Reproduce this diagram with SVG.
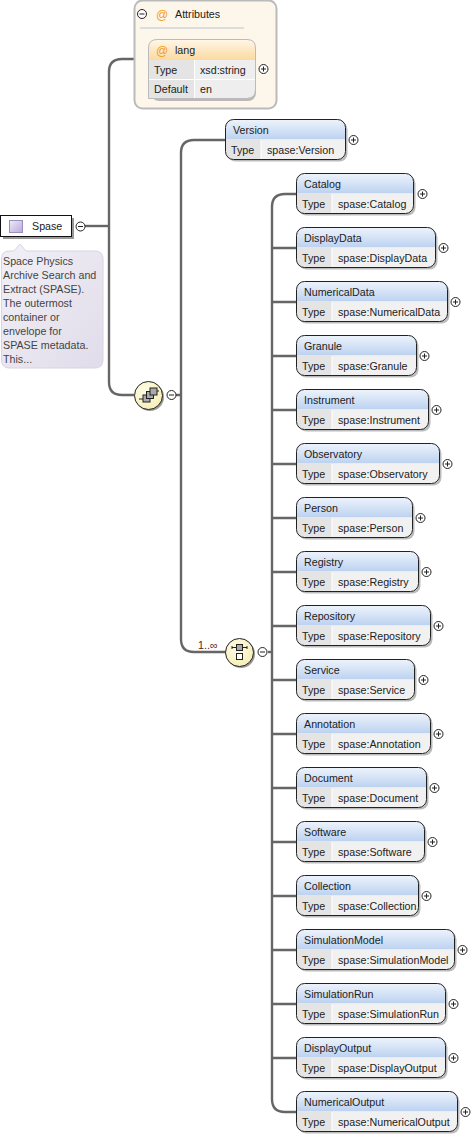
<svg xmlns="http://www.w3.org/2000/svg" width="473" height="1137" viewBox="0 0 473 1137">
<style>
text{font-family:"Liberation Sans",Arial,sans-serif;font-size:10.7px;fill:#222}
.conn{fill:none;stroke:#666;stroke-width:2.4}
.out{fill:#fff;stroke:none}
.ol{fill:none;stroke:#222;stroke-width:1}
.sh{fill:#aaa;opacity:.8}
.tc{fill:#e4e4e4}
.vc{fill:#f1f1f1}
.pm circle{fill:#fff;stroke:#222;stroke-width:1}
.pm path{stroke:#222;stroke-width:1;fill:none}
.at{fill:#f0a020;font-size:12px}
.doc{fill:#444;font-size:10.7px}
.sym{fill:#aaa;stroke:#222;stroke-width:1}
.lin{stroke:#222;stroke-width:1;fill:none}
</style>
<defs>
<linearGradient id="hdr" x1="0" y1="0" x2="0" y2="1"><stop offset="0" stop-color="#eef3fc"/><stop offset="1" stop-color="#bcd2f0"/></linearGradient>
<linearGradient id="ahdr" x1="0" y1="0" x2="0" y2="1"><stop offset="0" stop-color="#fff6e6"/><stop offset="1" stop-color="#fcd9a0"/></linearGradient>
<linearGradient id="doc" x1="0" y1="0" x2="1" y2="1"><stop offset="0" stop-color="#f2f0f6"/><stop offset="1" stop-color="#e0dcea"/></linearGradient>
<linearGradient id="sq" x1="0" y1="0" x2="1" y2="1"><stop offset="0" stop-color="#f0ebf8"/><stop offset="1" stop-color="#b8a8dc"/></linearGradient>
<radialGradient id="comp" cx=".4" cy=".35" r=".7"><stop offset="0" stop-color="#fffde8"/><stop offset="1" stop-color="#f5eeb4"/></radialGradient>
<g id="plus" class="pm"><circle r="4.500"/><path d="M-2.500 0H2.500M0-2.500V2.500"/></g>
<g id="minus" class="pm"><circle r="4.500"/><path d="M-2.500 0H2.500"/></g>
</defs>

<g id="connectors">
<path class="conn" d="M85 226H109"/>
<path class="conn" d="M134 59H122Q109 59 109 72V382Q109 395 122 395H134"/>
<path class="conn" d="M176 395H181"/>
<path class="conn" d="M226 140H194Q181 140 181 153V639Q181 652 194 652H226"/>
<path class="conn" d="M268 652H272"/>
<path class="conn" d="M297 194H285Q272 194 272 207V1099Q272 1112 285 1112H297"/>
<path class="conn" d="M272 248H297M272 302H297M272 356H297M272 410H297M272 464H297M272 518H297M272 572H297M272 626H297M272 680H297M272 734H297M272 788H297M272 842H297M272 896H297M272 950H297M272 1004H297M272 1058H297"/>
</g>

<g id="node-attributes">
<rect x="134.500" y="0.500" width="142" height="108" rx="8" fill="#fdf6ea" stroke="#bbb" stroke-width="2"/>
<path d="M140 28H244" stroke="#ddd" stroke-width="2" fill="none"/>
<use href="#minus" x="142" y="14"/>
<text class="at" x="156" y="19">@</text>
<text x="175" y="18">Attributes</text>
</g>
<g id="node-lang">
<rect x="151" y="42" width="105" height="59" rx="8" class="sh"/>
<path d="M149 99V48Q149 40 157 40H247Q255 40 255 48V91Q255 98 247 98H149Z" fill="#eee"/>
<path d="M149 60V48Q149 40 157 40H247Q255 40 255 48V60Z" fill="url(#ahdr)"/>
<rect x="149" y="60" width="45" height="38" fill="#e4e4e4"/>
<path d="M149 79.500H255M194.500 60V98" stroke="#fff" stroke-width="1"/>
<path d="M148.500 98.500V48Q148.500 39.500 157 39.500H247Q255.500 39.500 255.500 48V90Q255.500 98.500 247 98.500Z" fill="none" stroke="#bbb"/>
<text class="at" x="156" y="55">@</text>
<text x="175" y="54">lang</text>
<text x="154" y="74">Type</text><text x="200" y="74">xsd:string</text>
<text x="154" y="93">Default</text><text x="200" y="93">en</text>
<use href="#plus" x="263.500" y="69"/>
</g>

<g id="node-spase">
<rect x="3" y="218" width="71" height="21" fill="#999"/>
<rect x="0.500" y="215.500" width="71" height="21" fill="#fff" stroke="#111"/>
<rect x="9.500" y="220.500" width="13" height="12" fill="url(#sq)" stroke="#9a8fc0"/>
<text x="32" y="230">Spase</text>
<use href="#minus" x="80.500" y="226.500"/>
<path d="M1.500 259Q1.500 251 9.500 251H14L20 244L26 251H95Q103 251 103 259V360Q103 368 95 368H9.500Q1.500 368 1.500 360Z" fill="url(#doc)" stroke="#d8d4e2"/>
<text class="doc" x="3" y="265">Space Physics</text>
<text class="doc" x="3" y="279">Archive Search and</text>
<text class="doc" x="3" y="293">Extract (SPASE).</text>
<text class="doc" x="3" y="307">The outermost</text>
<text class="doc" x="3" y="321">container or</text>
<text class="doc" x="3" y="335">envelope for</text>
<text class="doc" x="3" y="349">SPASE metadata.</text>
<text class="doc" x="3" y="363">This...</text>
</g>

<g id="node-sequence">
<circle cx="150" cy="397" r="14" fill="#999"/>
<circle cx="148.500" cy="395.500" r="14" fill="url(#comp)" stroke="#222"/>
<path class="lin" d="M139 399H143M156 391H159"/>
<rect class="sym" x="143" y="395" width="7" height="7"/>
<rect class="sym" x="146.500" y="391.500" width="7" height="7"/>
<rect class="sym" x="150" y="388" width="7" height="7"/>
<use href="#minus" x="171.500" y="395"/>
</g>

<g id="node-choice">
<text x="198" y="649" style="fill:#5a2020">1..∞</text>
<circle cx="241" cy="654" r="14" fill="#999"/>
<circle cx="239.500" cy="652.500" r="14" fill="url(#comp)" stroke="#222"/>
<path class="lin" d="M232 647.500H247M232 646V649M247 646V649"/>
<rect class="sym" x="236.500" y="644.500" width="6" height="6"/>
<rect x="236.500" y="653.500" width="6" height="6" fill="#fff" stroke="#222"/>
<use href="#minus" x="262.500" y="652"/>
</g>

<g id="node-version" transform="translate(225.500,119.500)"><rect x="2" y="2" width="120" height="40" rx="8" class="sh"/><rect width="120" height="40" rx="8" class="out"/><path d="M0 20V8Q0 0 8 0H112Q120 0 120 8V20Z" fill="url(#hdr)"/><path d="M0 20H35V40H8Q0 40 0 32Z" class="tc"/><path d="M36 20H120V32Q120 40 112 40H36Z" class="vc"/><rect width="120" height="40" rx="8" class="ol"/><text x="7.500" y="14.500">Version</text><text x="5.500" y="34.500">Type</text><text x="41.500" y="34.500">spase:Version</text><use href="#plus" x="128" y="20.500"/></g>

<g id="node-catalog" transform="translate(296.500,173.500)"><rect x="2" y="2" width="117" height="40" rx="8" class="sh"/><rect width="117" height="40" rx="8" class="out"/><path d="M0 20V8Q0 0 8 0H109Q117 0 117 8V20Z" fill="url(#hdr)"/><path d="M0 20H35V40H8Q0 40 0 32Z" class="tc"/><path d="M36 20H117V32Q117 40 109 40H36Z" class="vc"/><rect width="117" height="40" rx="8" class="ol"/><text x="7.500" y="14.500">Catalog</text><text x="5.500" y="34.500">Type</text><text x="41.500" y="34.500">spase:Catalog</text><use href="#plus" x="126" y="20.500"/></g>
<g id="node-displaydata" transform="translate(296.500,227.500)"><rect x="2" y="2" width="139" height="40" rx="8" class="sh"/><rect width="139" height="40" rx="8" class="out"/><path d="M0 20V8Q0 0 8 0H131Q139 0 139 8V20Z" fill="url(#hdr)"/><path d="M0 20H35V40H8Q0 40 0 32Z" class="tc"/><path d="M36 20H139V32Q139 40 131 40H36Z" class="vc"/><rect width="139" height="40" rx="8" class="ol"/><text x="7.500" y="14.500">DisplayData</text><text x="5.500" y="34.500">Type</text><text x="41.500" y="34.500">spase:DisplayData</text><use href="#plus" x="147" y="20.500"/></g>
<g id="node-numericaldata" transform="translate(296.500,281.500)"><rect x="2" y="2" width="151" height="40" rx="8" class="sh"/><rect width="151" height="40" rx="8" class="out"/><path d="M0 20V8Q0 0 8 0H143Q151 0 151 8V20Z" fill="url(#hdr)"/><path d="M0 20H35V40H8Q0 40 0 32Z" class="tc"/><path d="M36 20H151V32Q151 40 143 40H36Z" class="vc"/><rect width="151" height="40" rx="8" class="ol"/><text x="7.500" y="14.500">NumericalData</text><text x="5.500" y="34.500">Type</text><text x="41.500" y="34.500">spase:NumericalData</text><use href="#plus" x="159" y="20.500"/></g>
<g id="node-granule" transform="translate(296.500,335.500)"><rect x="2" y="2" width="120" height="40" rx="8" class="sh"/><rect width="120" height="40" rx="8" class="out"/><path d="M0 20V8Q0 0 8 0H112Q120 0 120 8V20Z" fill="url(#hdr)"/><path d="M0 20H35V40H8Q0 40 0 32Z" class="tc"/><path d="M36 20H120V32Q120 40 112 40H36Z" class="vc"/><rect width="120" height="40" rx="8" class="ol"/><text x="7.500" y="14.500">Granule</text><text x="5.500" y="34.500">Type</text><text x="41.500" y="34.500">spase:Granule</text><use href="#plus" x="128" y="20.500"/></g>
<g id="node-instrument" transform="translate(296.500,389.500)"><rect x="2" y="2" width="132" height="40" rx="8" class="sh"/><rect width="132" height="40" rx="8" class="out"/><path d="M0 20V8Q0 0 8 0H124Q132 0 132 8V20Z" fill="url(#hdr)"/><path d="M0 20H35V40H8Q0 40 0 32Z" class="tc"/><path d="M36 20H132V32Q132 40 124 40H36Z" class="vc"/><rect width="132" height="40" rx="8" class="ol"/><text x="7.500" y="14.500">Instrument</text><text x="5.500" y="34.500">Type</text><text x="41.500" y="34.500">spase:Instrument</text><use href="#plus" x="140" y="20.500"/></g>
<g id="node-observatory" transform="translate(296.500,443.500)"><rect x="2" y="2" width="143" height="40" rx="8" class="sh"/><rect width="143" height="40" rx="8" class="out"/><path d="M0 20V8Q0 0 8 0H135Q143 0 143 8V20Z" fill="url(#hdr)"/><path d="M0 20H35V40H8Q0 40 0 32Z" class="tc"/><path d="M36 20H143V32Q143 40 135 40H36Z" class="vc"/><rect width="143" height="40" rx="8" class="ol"/><text x="7.500" y="14.500">Observatory</text><text x="5.500" y="34.500">Type</text><text x="41.500" y="34.500">spase:Observatory</text><use href="#plus" x="151" y="20.500"/></g>
<g id="node-person" transform="translate(296.500,497.500)"><rect x="2" y="2" width="116" height="40" rx="8" class="sh"/><rect width="116" height="40" rx="8" class="out"/><path d="M0 20V8Q0 0 8 0H108Q116 0 116 8V20Z" fill="url(#hdr)"/><path d="M0 20H35V40H8Q0 40 0 32Z" class="tc"/><path d="M36 20H116V32Q116 40 108 40H36Z" class="vc"/><rect width="116" height="40" rx="8" class="ol"/><text x="7.500" y="14.500">Person</text><text x="5.500" y="34.500">Type</text><text x="41.500" y="34.500">spase:Person</text><use href="#plus" x="124" y="20.500"/></g>
<g id="node-registry" transform="translate(296.500,551.500)"><rect x="2" y="2" width="122" height="40" rx="8" class="sh"/><rect width="122" height="40" rx="8" class="out"/><path d="M0 20V8Q0 0 8 0H114Q122 0 122 8V20Z" fill="url(#hdr)"/><path d="M0 20H35V40H8Q0 40 0 32Z" class="tc"/><path d="M36 20H122V32Q122 40 114 40H36Z" class="vc"/><rect width="122" height="40" rx="8" class="ol"/><text x="7.500" y="14.500">Registry</text><text x="5.500" y="34.500">Type</text><text x="41.500" y="34.500">spase:Registry</text><use href="#plus" x="130" y="20.500"/></g>
<g id="node-repository" transform="translate(296.500,605.500)"><rect x="2" y="2" width="134" height="40" rx="8" class="sh"/><rect width="134" height="40" rx="8" class="out"/><path d="M0 20V8Q0 0 8 0H126Q134 0 134 8V20Z" fill="url(#hdr)"/><path d="M0 20H35V40H8Q0 40 0 32Z" class="tc"/><path d="M36 20H134V32Q134 40 126 40H36Z" class="vc"/><rect width="134" height="40" rx="8" class="ol"/><text x="7.500" y="14.500">Repository</text><text x="5.500" y="34.500">Type</text><text x="41.500" y="34.500">spase:Repository</text><use href="#plus" x="142" y="20.500"/></g>
<g id="node-service" transform="translate(296.500,659.500)"><rect x="2" y="2" width="118" height="40" rx="8" class="sh"/><rect width="118" height="40" rx="8" class="out"/><path d="M0 20V8Q0 0 8 0H110Q118 0 118 8V20Z" fill="url(#hdr)"/><path d="M0 20H35V40H8Q0 40 0 32Z" class="tc"/><path d="M36 20H118V32Q118 40 110 40H36Z" class="vc"/><rect width="118" height="40" rx="8" class="ol"/><text x="7.500" y="14.500">Service</text><text x="5.500" y="34.500">Type</text><text x="41.500" y="34.500">spase:Service</text><use href="#plus" x="127" y="20.500"/></g>
<g id="node-annotation" transform="translate(296.500,713.500)"><rect x="2" y="2" width="134" height="40" rx="8" class="sh"/><rect width="134" height="40" rx="8" class="out"/><path d="M0 20V8Q0 0 8 0H126Q134 0 134 8V20Z" fill="url(#hdr)"/><path d="M0 20H35V40H8Q0 40 0 32Z" class="tc"/><path d="M36 20H134V32Q134 40 126 40H36Z" class="vc"/><rect width="134" height="40" rx="8" class="ol"/><text x="7.500" y="14.500">Annotation</text><text x="5.500" y="34.500">Type</text><text x="41.500" y="34.500">spase:Annotation</text><use href="#plus" x="142" y="20.500"/></g>
<g id="node-document" transform="translate(296.500,767.500)"><rect x="2" y="2" width="130" height="40" rx="8" class="sh"/><rect width="130" height="40" rx="8" class="out"/><path d="M0 20V8Q0 0 8 0H122Q130 0 130 8V20Z" fill="url(#hdr)"/><path d="M0 20H35V40H8Q0 40 0 32Z" class="tc"/><path d="M36 20H130V32Q130 40 122 40H36Z" class="vc"/><rect width="130" height="40" rx="8" class="ol"/><text x="7.500" y="14.500">Document</text><text x="5.500" y="34.500">Type</text><text x="41.500" y="34.500">spase:Document</text><use href="#plus" x="138" y="20.500"/></g>
<g id="node-software" transform="translate(296.500,821.500)"><rect x="2" y="2" width="128" height="40" rx="8" class="sh"/><rect width="128" height="40" rx="8" class="out"/><path d="M0 20V8Q0 0 8 0H120Q128 0 128 8V20Z" fill="url(#hdr)"/><path d="M0 20H35V40H8Q0 40 0 32Z" class="tc"/><path d="M36 20H128V32Q128 40 120 40H36Z" class="vc"/><rect width="128" height="40" rx="8" class="ol"/><text x="7.500" y="14.500">Software</text><text x="5.500" y="34.500">Type</text><text x="41.500" y="34.500">spase:Software</text><use href="#plus" x="136" y="20.500"/></g>
<g id="node-collection" transform="translate(296.500,875.500)"><rect x="2" y="2" width="122" height="40" rx="8" class="sh"/><rect width="122" height="40" rx="8" class="out"/><path d="M0 20V8Q0 0 8 0H114Q122 0 122 8V20Z" fill="url(#hdr)"/><path d="M0 20H35V40H8Q0 40 0 32Z" class="tc"/><path d="M36 20H122V32Q122 40 114 40H36Z" class="vc"/><rect width="122" height="40" rx="8" class="ol"/><text x="7.500" y="14.500">Collection</text><text x="5.500" y="34.500">Type</text><text x="41.500" y="34.500">spase:Collection</text><use href="#plus" x="130" y="20.500"/></g>
<g id="node-simulationmodel" transform="translate(296.500,929.500)"><rect x="2" y="2" width="158" height="40" rx="8" class="sh"/><rect width="158" height="40" rx="8" class="out"/><path d="M0 20V8Q0 0 8 0H150Q158 0 158 8V20Z" fill="url(#hdr)"/><path d="M0 20H35V40H8Q0 40 0 32Z" class="tc"/><path d="M36 20H158V32Q158 40 150 40H36Z" class="vc"/><rect width="158" height="40" rx="8" class="ol"/><text x="7.500" y="14.500">SimulationModel</text><text x="5.500" y="34.500">Type</text><text x="41.500" y="34.500">spase:SimulationModel</text><use href="#plus" x="166" y="20.500"/></g>
<g id="node-simulationrun" transform="translate(296.500,983.500)"><rect x="2" y="2" width="149" height="40" rx="8" class="sh"/><rect width="149" height="40" rx="8" class="out"/><path d="M0 20V8Q0 0 8 0H141Q149 0 149 8V20Z" fill="url(#hdr)"/><path d="M0 20H35V40H8Q0 40 0 32Z" class="tc"/><path d="M36 20H149V32Q149 40 141 40H36Z" class="vc"/><rect width="149" height="40" rx="8" class="ol"/><text x="7.500" y="14.500">SimulationRun</text><text x="5.500" y="34.500">Type</text><text x="41.500" y="34.500">spase:SimulationRun</text><use href="#plus" x="157" y="20.500"/></g>
<g id="node-displayoutput" transform="translate(296.500,1037.500)"><rect x="2" y="2" width="149" height="40" rx="8" class="sh"/><rect width="149" height="40" rx="8" class="out"/><path d="M0 20V8Q0 0 8 0H141Q149 0 149 8V20Z" fill="url(#hdr)"/><path d="M0 20H35V40H8Q0 40 0 32Z" class="tc"/><path d="M36 20H149V32Q149 40 141 40H36Z" class="vc"/><rect width="149" height="40" rx="8" class="ol"/><text x="7.500" y="14.500">DisplayOutput</text><text x="5.500" y="34.500">Type</text><text x="41.500" y="34.500">spase:DisplayOutput</text><use href="#plus" x="157" y="20.500"/></g>
<g id="node-numericaloutput" transform="translate(296.500,1091.500)"><rect x="2" y="2" width="161" height="40" rx="8" class="sh"/><rect width="161" height="40" rx="8" class="out"/><path d="M0 20V8Q0 0 8 0H153Q161 0 161 8V20Z" fill="url(#hdr)"/><path d="M0 20H35V40H8Q0 40 0 32Z" class="tc"/><path d="M36 20H161V32Q161 40 153 40H36Z" class="vc"/><rect width="161" height="40" rx="8" class="ol"/><text x="7.500" y="14.500">NumericalOutput</text><text x="5.500" y="34.500">Type</text><text x="41.500" y="34.500">spase:NumericalOutput</text><use href="#plus" x="169" y="20.500"/></g>
</svg>
